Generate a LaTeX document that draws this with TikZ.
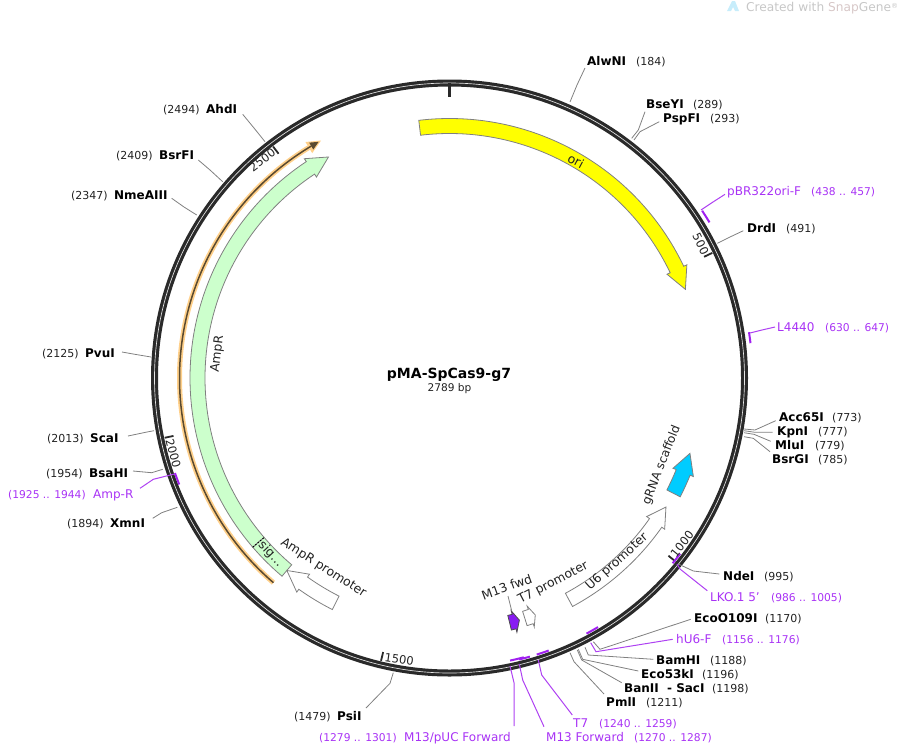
\documentclass[tikz,border=0pt]{standalone}
\usepackage{fontspec}
\setmainfont{DejaVu Sans}
\definecolor{ringc}{HTML}{2A2A2A}
\definecolor{purp}{HTML}{A020F0}
\definecolor{purt}{HTML}{A832F5}
\definecolor{leadc}{HTML}{808080}
\definecolor{txtc}{HTML}{222222}
\definecolor{grn}{HTML}{CCFFCC}
\definecolor{oran}{HTML}{FFD08A}
\definecolor{brwn}{HTML}{5A4A30}
\definecolor{yel}{HTML}{FFFF00}
\definecolor{blu}{HTML}{00CCFF}
\tikzset{
  enz/.style={anchor=west,inner sep=0pt,text height=9pt,text depth=0pt,font=\fontsize{12}{14}\selectfont\bfseries,text=black},
  posl/.style={anchor=west,inner sep=0pt,text height=9pt,text depth=0pt,font=\fontsize{11}{13}\selectfont,text=txtc},
  pri/.style={anchor=west,inner sep=0pt,text height=9pt,text depth=0pt,font=\fontsize{12}{14}\selectfont,text=purt},
  prp/.style={anchor=west,inner sep=0pt,text height=9pt,text depth=0pt,font=\fontsize{10.7}{13}\selectfont,text=purt},
  fea/.style={inner sep=0pt,font=\fontsize{12.4}{14}\selectfont,text=txtc},
  tickl/.style={inner sep=0pt,font=\fontsize{11.5}{13}\selectfont,text=txtc},
  leader/.style={draw=leadc,line width=0.8pt},
  pleader/.style={draw=purp!85,line width=1pt},
  pmark/.style={draw=purp,line width=2pt},
  farrow/.style={draw=leadc,line width=0.8pt,line join=miter},
  tickm/.style={draw=ringc,line width=1.8pt}
}
% three-point connector with named coordinates
\newcommand\lnk[5]{\coordinate (#2a) at (#3);\coordinate (#2b) at (#4);\coordinate (#2c) at (#5);\draw[#1] (#2a) -- (#2b) -- (#2c);}
% arrow-shaped feature: tail angle, barb angle, tip angle, fill
\newcommand\featarrow[4]{\path[farrow,fill=#4] ({#1-90}:259.5) arc[start angle={#1-90},end angle={#2-90},radius=259.5] -- ({#2-90}:263) -- ({#3-90}:252) -- ({#2-90}:241) -- ({#2-90}:244.5) arc[start angle={#2-90},end angle={#1-90},radius=244.5] -- cycle;}
% primer mark on radius
\newcommand\pmk[3]{\draw[pmark] ({#1-90}:#3) arc[start angle={#1-90},end angle={#2-90},radius=#3];}
\begin{document}
\begin{tikzpicture}[x=1pt,y=-1pt]
\useasboundingbox (0,0) rectangle (897,745);
% watermark
\fill[cyan!22] (727,11) -- (732,1) -- (735,1) -- (739,11) -- (735,11) -- (733,7) -- (731,11) -- cycle;
\node[anchor=base west,inner sep=0pt,font=\fontsize{12.2}{14}\selectfont,text=black!22] (wm) at (746,11) {Created with \textcolor{red!28!black!22}{Snap}Gene\raisebox{3pt}{\fontsize{7}{8}\selectfont ®}};
\begin{scope}[shift={(449.5,378)}]
% ring
\draw[ringc,line width=7pt] (0:295) arc[start angle=0,end angle=360,radius=295] -- cycle;
\draw[white!90!black,line width=0.65pt] (0:295) arc[start angle=0,end angle=360,radius=295] -- cycle;
% ticks
\draw[ringc,line width=3pt] (-90:295) -- (-90:281);
\foreach \a in {64.54,129.07,193.61,258.15,322.69}{\draw[tickm] ({\a-90}:291) -- ({\a-90}:282);}
% orange feature
\draw[oran,line width=5pt] (130.7:270) arc[start angle=130.7,end angle=238.6,radius=270];
\fill[oran] (238.6:263.5) -- (241.6:270) -- (238.6:276.5) -- cycle;
\draw[brwn,line width=1.5pt] (130.7:270) arc[start angle=130.7,end angle=239.2,radius=270];
\fill[brwn] (239.2:266) -- (241:270) -- (239.2:274) -- cycle;
% features
\featarrow{-6.8}{64.5}{69.4}{yel}
\featarrow{229.3}{326.5}{331.3}{grn}
\path[farrow,fill=grn] (130.2:259.5) arc[start angle=130.2,end angle=139.3,radius=259.5] -- (139.3:244.5) arc[start angle=139.3,end angle=130.2,radius=244.5] -- cycle;
\draw[black,line width=0.9pt,dash pattern=on 1.6pt off 1.6pt] (139.3:259.5) -- (139.3:244.5);
\featarrow{151.7}{125.1}{120.8}{white}
\featarrow{117.25}{112}{107.4}{blu}
\featarrow{206.85}{215.5}{220.2}{white}
\featarrow{162.6}{161.2}{160.1}{white}
\path[draw=black!70,fill=purp!85!blue,line width=0.8pt] ({166.2-90}:259.5) arc[start angle={166.2-90},end angle={165.15-90},radius=259.5] -- ({165.15-90}:263) -- ({163.9-90}:252) -- ({165.15-90}:241) -- ({165.15-90}:244.5) arc[start angle={165.15-90},end angle={166.2-90},radius=244.5] -- cycle;
% primer marks
\pmk{56.5}{59.1}{303}
\pmk{81.3}{83.4}{303}
\pmk{127.3}{129.7}{290}
\pmk{149.2}{151.8}{290}
\pmk{160}{162.5}{290}
\pmk{163.9}{166.1}{290}
\pmk{165.1}{167.9}{289}
\pmk{248.5}{250.9}{290.5}
\end{scope}
% tick labels
\node[tickl,rotate=-64.5] (t500) at (700.7,244) {500};
\node[tickl,rotate=51] (t1000) at (682,544) {1000};
\node[tickl,rotate=-8] (t1500) at (399.3,659) {1500};
\node[tickl,rotate=-75] (t2000) at (173.3,453.3) {2000};
\node[tickl,rotate=37] (t2500) at (262.3,160) {2500};
% feature labels
\node[fea,rotate=-28] (fori) at (576,161) {ori};
\node[fea,rotate=83] (fampr) at (217.7,354) {AmpR};
\node[fea,rotate=68.5,font=\fontsize{12}{14}\selectfont] (fgrna) at (661.7,465) {gRNA scaffold};
\node[fea,rotate=42] (fu6) at (617,562) {U6 promoter};
\node[fea,rotate=27.6] (ft7) at (553.3,583) {T7 promoter};
\node[fea,rotate=20] (fm13) at (506.7,587) {M13 fwd};
\node[fea,rotate=-32.6] (fapr) at (323.3,568) {AmpR promoter};
\node[fea,rotate=-47] (fsig) at (270.7,554) {sig…};
% center
\node[inner sep=0pt,text height=10pt,text depth=0pt,font=\fontsize{14}{16}\selectfont\bfseries] (pname) at (449,373) {pMA-SpCas9-g7};
\node[inner sep=0pt,text height=8pt,text depth=0pt,font=\fontsize{10.6}{12}\selectfont,text=txtc] (psize) at (449.5,387) {2789 bp};
% enzyme and primer labels
\node[enz] (AlwNI) at (587,61) {AlwNI}; \node[posl] (pAlwNI) at (636,61) {(184)};
\node[enz] (BseYI) at (646,104) {BseYI}; \node[posl] (pBseYI) at (693,104) {(289)};
\node[enz] (PspFI) at (663,118) {PspFI}; \node[posl] (pPspFI) at (710,118) {(293)};
\node[pri] (ori-F) at (727,191) {pBR322ori-F}; \node[prp] (pori-F) at (811,191) {(438 .. 457)};
\node[enz] (DrdI) at (747,228) {DrdI}; \node[posl] (pDrdI) at (786,228) {(491)};
\node[pri] (L4440) at (777,327) {L4440}; \node[prp] (pL4440) at (825,327) {(630 .. 647)};
\node[enz] (Acc65I) at (779,417) {Acc65I}; \node[posl] (pAcc65I) at (832,417) {(773)};
\node[enz] (KpnI) at (777,431) {KpnI}; \node[posl] (pKpnI) at (818,431) {(777)};
\node[enz] (MluI) at (775,445) {MluI}; \node[posl] (pMluI) at (815,445) {(779)};
\node[enz] (BsrGI) at (772,459) {BsrGI}; \node[posl] (pBsrGI) at (818,459) {(785)};
\node[enz] (NdeI) at (723,576) {NdeI}; \node[posl] (pNdeI) at (764,576) {(995)};
\node[pri] (LKO) at (710,597) {LKO.1 5'}; \node[prp] (pLKO) at (771,597) {(986 .. 1005)};
\node[enz] (EcoO) at (694,618) {EcoO109I}; \node[posl] (pEcoO) at (765,618) {(1170)};
\node[pri] (hU6) at (676,639) {hU6-F}; \node[prp] (phU6) at (722,639) {(1156 .. 1176)};
\node[enz] (BamHI) at (656,660) {BamHI}; \node[posl] (pBamHI) at (710,660) {(1188)};
\node[enz] (Eco53) at (641,674) {Eco53kI}; \node[posl] (pEco53) at (702,674) {(1196)};
\node[enz] (BanII) at (624,688) {BanII\,\, - SacI}; \node[posl] (pBanII) at (712,688) {(1198)};
\node[enz] (PmlI) at (606,702) {PmlI}; \node[posl] (pPmlI) at (646,702) {(1211)};
\node[pri] (T7) at (573,723) {T7}; \node[prp] (pT7) at (599,723) {(1240 .. 1259)};
\node[pri] (M13F) at (546,737) {M13 Forward}; \node[prp] (pM13F) at (634,737) {(1270 .. 1287)};
\node[pri] (M13P) at (404,737) {M13/pUC Forward}; \node[prp] (pM13P) at (319,737) {(1279 .. 1301)};
\node[enz] (PsiI) at (337,716) {PsiI}; \node[posl] (pPsiI) at (294,716) {(1479)};
\node[enz] (XmnI) at (110,523) {XmnI}; \node[posl] (pXmnI) at (67,523) {(1894)};
\node[pri] (AmpR) at (93,494) {Amp-R}; \node[prp] (pAmpR) at (8,494) {(1925 .. 1944)};
\node[enz] (BsaHI) at (89,473) {BsaHI}; \node[posl] (pBsaHI) at (46,473) {(1954)};
\node[enz] (ScaI) at (90,438) {ScaI}; \node[posl] (pScaI) at (47,438) {(2013)};
\node[enz] (PvuI) at (85,353) {PvuI}; \node[posl] (pPvuI) at (42,353) {(2125)};
\node[enz] (NmeAIII) at (114,195) {NmeAIII}; \node[posl] (pNmeAIII) at (71,195) {(2347)};
\node[enz] (BsrFI) at (159,155) {BsrFI}; \node[posl] (pBsrFI) at (116,155) {(2409)};
\node[enz] (AhdI) at (206,109) {AhdI}; \node[posl] (pAhdI) at (163,109) {(2494)};
% connectors
\lnk{leader}{lAlw}{570,102}{577,85}{585,68}
\lnk{leader}{lBse}{631.7,138.3}{638.3,130}{645,111.7}
\lnk{leader}{lPsp}{634,140}{640,131.7}{659.3,121.7}
\lnk{leader}{lDrd}{717.3,243.3}{730,237}{743.3,230.7}
\lnk{pleader}{lBR}{701,210}{713,202}{725,194.3}
\lnk{pleader}{lL44}{750,333}{762,330}{775,327}
\lnk{leader}{lAcc}{744,429}{755,430}{775.7,420.7}
\lnk{leader}{lKpn}{744,430.7}{755,432.3}{772.7,432.3}
\lnk{leader}{lMlu}{744,432.7}{754,434.3}{770.7,441.3}
\lnk{leader}{lBsr}{744,436.7}{753.3,438.3}{770,451.7}
\lnk{leader}{lNde}{678.3,564}{693.3,571}{719.3,574}
\lnk{pleader}{lLKO}{677,564}{680,569}{707.3,590.7}
\lnk{leader}{lEco}{593.3,641.7}{600,649.3}{690.7,619.3}
\lnk{pleader}{lhU6}{590.7,642.7}{596,651.7}{672.7,639.3}
\lnk{leader}{lBam}{585,647.3}{588.3,655}{653.3,659.3}
\lnk{leader}{lE53}{578.3,649.3}{582.7,659.3}{638.3,671}
\lnk{leader}{lBan}{577.3,650}{581.7,660}{621.7,682.7}
\lnk{leader}{lPml}{570,652.7}{574,661.7}{604,694}
\lnk{pleader}{lT7}{538.3,660}{541.7,675}{572.3,715}
\lnk{pleader}{lM13F}{519.3,664}{522.7,680}{544,726.7}
\lnk{pleader}{lM13P}{510,666}{514,682.7}{514,726}
\lnk{leader}{lPsi}{393.3,672.7}{390,683.3}{366,708}
\lnk{leader}{lAhd}{265,141.7}{254,128}{242.7,114.3}
\lnk{leader}{lBsF}{222.7,181.7}{210,170}{198.3,160}
\lnk{leader}{lNme}{196.7,215}{184,207}{171.7,198.3}
\lnk{leader}{lPvu}{151,357}{136,354.5}{122,352}
\lnk{leader}{lSca}{154,430.7}{147,432}{128,436}
\lnk{leader}{lBsa}{162.7,469.3}{151.7,472.7}{133,471}
\lnk{pleader}{lAmp}{174.3,474}{153.3,479.3}{140,488.3}
\lnk{leader}{lXmn}{177.3,507.3}{161.7,512.7}{152.7,518.3}
\lnk{leader}{lM13f}{508,596}{510,604}{511.7,611}
\end{tikzpicture}
\end{document}
